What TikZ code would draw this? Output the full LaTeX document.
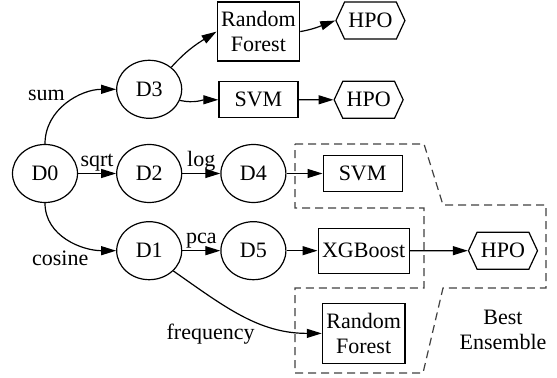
\documentclass[tikz,border=0pt]{standalone}
\usepackage{fontspec}
\setmainfont{Liberation Serif}
\usetikzlibrary{positioning,arrows.meta,shapes.geometric,shapes.symbols}
\begin{document}
\begin{tikzpicture}[x=0.5pt,y=-0.5pt,node distance=19pt,line width=0.6pt,
  font=\fontsize{11}{12.5}\selectfont,
  >={Triangle[length=7.5pt,width=4.5pt]},
  data/.style={ellipse,draw,minimum width=32.5pt,minimum height=29pt,inner sep=1pt},
  model/.style={rectangle,draw,align=center,minimum width=39.5pt,minimum height=18pt,inner xsep=2pt,inner ysep=1pt},
  hpo/.style={signal,signal to=west and east,signal pointer angle=130,draw,minimum width=34.5pt,minimum height=18.5pt,inner sep=1pt},
  lbl/.style={inner sep=1pt}]
\useasboundingbox (0,0) rectangle (557,378);
\node[data] (D0) at (45,173.5) {D0};
\node[data,right=of D0] (D2) {D2};
\node[data,right=of D2] (D4) {D4};
\node[data,above=12.5pt of D2] (D3) {D3};
\node[data,below=9pt of D2] (D1) {D1};
\node[data,right=of D1] (D5) {D5};
\node[model,right=18pt of D3,yshift=-5.25pt] (svm1) {SVM};
\node[model,above=9.75pt of svm1,minimum height=29.5pt] (rf1) {Random\\Forest};
\node[hpo,right=17.5pt of rf1,yshift=5.5pt] (hpo1) {HPO};
\node[hpo,right=17.5pt of svm1] (hpo2) {HPO};
\node[model,right=18pt of D4] (svm2) {SVM};
\node[model,right=15.5pt of D5,minimum height=22.5pt] (xgb) {XGBoost};
\node[hpo,right=29pt of xgb] (hpo3) {HPO};
\node[model,below=14.5pt of xgb,minimum height=30pt,minimum width=40pt] (rf2) {Random\\Forest};
\node[align=center] (best) at (503,330) {Best\\Ensemble};
\draw[->] (D0.north) to[out=90,in=180] node[lbl,pos=0.5,above left] {sum} (D3.west);
\draw[->] (D0) -- node[lbl,above] {sqrt} (D2);
\draw[->] (D2) -- node[lbl,above] {log} (D4);
\draw[->] (D0.south) to[out=-90,in=180] node[lbl,pos=0.75,below left] {cosine} (D1.west);
\draw[->] (D1) -- node[lbl,above] {pca} (D5);
\draw[->] (D1.-40) to[out=-35,in=180] node[lbl,pos=0.6,below left] {frequency} (rf2.west);
\draw[->] (D3.45) to[out=48,in=212] (rf1.west);
\draw[->] (D3.-20) to[out=-12,in=180] (svm1.west);
\draw[->] (rf1.east) to[out=10,in=200] (hpo1.west);
\draw[->] (svm1) -- (hpo2);
\draw[->] (D4) -- (svm2);
\draw[->] (D5) -- (xgb);
\draw[->] (xgb) -- (hpo3);
\draw[dash pattern=on 4pt off 2.5pt,black!75] (295,144) -- (424,144) -- (443,205) -- (546,205) -- (546,288) -- (443,288) -- (423,373) -- (295,373) -- (295,288) -- (424,288) -- (424,208) -- (295,208) -- cycle;
\end{tikzpicture}
\end{document}
